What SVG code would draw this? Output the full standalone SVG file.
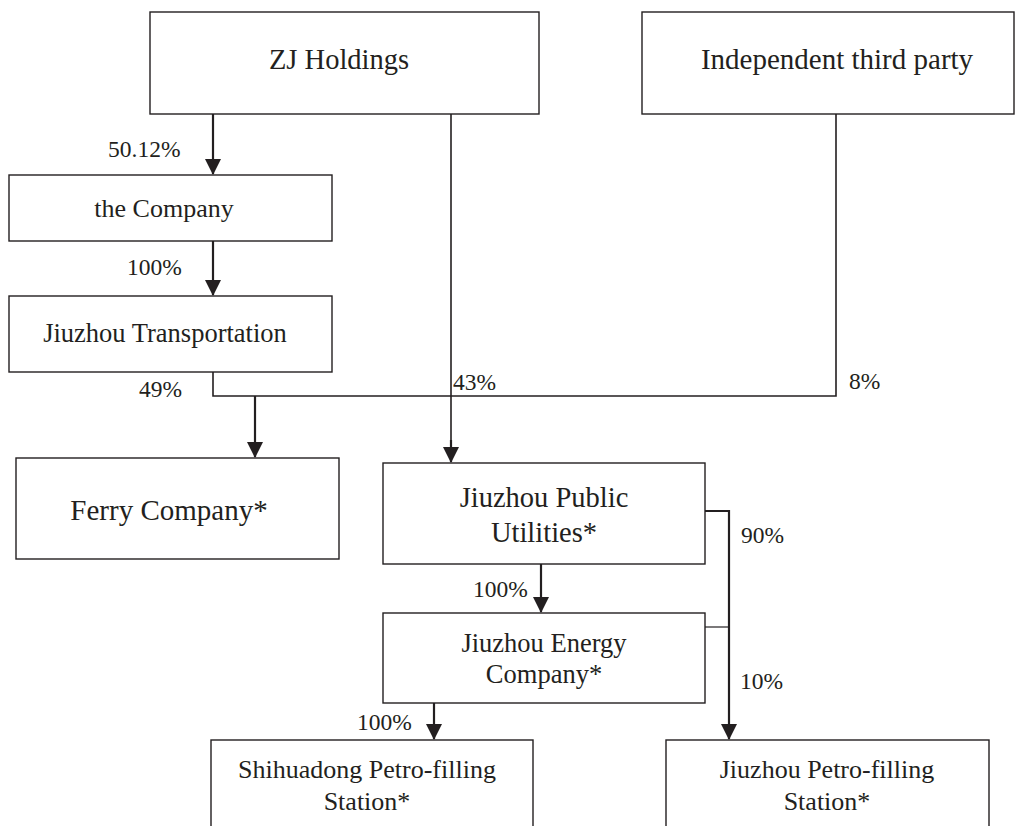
<svg xmlns="http://www.w3.org/2000/svg" width="1015" height="826" viewBox="0 0 1015 826">
<style>
.box{fill:#fff;stroke:#231f20;stroke-width:1.4}
.t{font-family:"Liberation Serif","Times New Roman",serif;fill:#231f20;text-anchor:middle}
.p{font-family:"Liberation Serif","Times New Roman",serif;fill:#231f20;font-size:23.5px}
.c{fill:none;stroke:#231f20;stroke-width:1.6}
.a{fill:none;stroke:#231f20;stroke-width:2.2}
</style>
<defs>
<marker id="ah" markerUnits="userSpaceOnUse" markerWidth="16" markerHeight="17" refX="15" refY="8" orient="auto">
<path d="M0,0 L16,8 L0,16 z" fill="#231f20"/>
</marker>
</defs>
<rect width="1015" height="826" fill="#fff"/>
<g id="connectors">
<line class="a" x1="213" y1="114" x2="213" y2="174" marker-end="url(#ah)"/>
<line class="a" x1="213" y1="241" x2="213" y2="295" marker-end="url(#ah)"/>
<polyline class="c" points="213,372 213,396 836,396 836,114"/>
<line class="a" x1="255" y1="396" x2="255" y2="457" marker-end="url(#ah)"/>
<line class="c" x1="451" y1="114" x2="451" y2="450"/>
<line class="a" x1="451" y1="440" x2="451" y2="462" marker-end="url(#ah)"/>
<line class="a" x1="541" y1="564" x2="541" y2="612" marker-end="url(#ah)"/>
<polyline class="a" points="705,511 729,511 729,739" marker-end="url(#ah)"/>
<line class="c" x1="705" y1="627" x2="729" y2="627" style="stroke-width:1.2"/>
<line class="a" x1="434" y1="703" x2="434" y2="739" marker-end="url(#ah)"/>
<text class="p" x="108" y="157">50.12%</text>
<text class="p" x="127" y="275">100%</text>
<text class="p" x="139" y="397">49%</text>
<text class="p" x="453" y="390">43%</text>
<text class="p" x="849" y="389">8%</text>
<text class="p" x="741" y="543">90%</text>
<text class="p" x="740" y="689">10%</text>
<text class="p" x="473" y="597">100%</text>
<text class="p" x="357" y="730">100%</text>
</g>
<g id="zj">
<rect class="box" x="150" y="12" width="389" height="102"/>
<text class="t" x="339" y="69" font-size="28.5">ZJ Holdings</text>
</g>
<g id="itp">
<rect class="box" x="642" y="12" width="372" height="102"/>
<text class="t" x="837" y="69" font-size="29">Independent third party</text>
</g>
<g id="company">
<rect class="box" x="9" y="175" width="323" height="66"/>
<text class="t" x="164" y="217" font-size="26">the Company</text>
</g>
<g id="transport">
<rect class="box" x="9" y="296" width="323" height="76"/>
<text class="t" x="165" y="342" font-size="26.5">Jiuzhou Transportation</text>
</g>
<g id="ferry">
<rect class="box" x="16" y="458" width="323" height="101"/>
<text class="t" x="169" y="520" font-size="29">Ferry Company*</text>
</g>
<g id="utilities">
<rect class="box" x="383" y="463" width="322" height="101"/>
<text class="t" x="544" y="507" font-size="28.5">Jiuzhou Public</text>
<text class="t" x="544" y="542" font-size="28.5">Utilities*</text>
</g>
<g id="energy">
<rect class="box" x="383" y="613" width="322" height="90"/>
<text class="t" x="544" y="652" font-size="26.5">Jiuzhou Energy</text>
<text class="t" x="544" y="683" font-size="26.5">Company*</text>
</g>
<g id="shihuadong">
<rect class="box" x="211" y="740" width="322" height="100"/>
<text class="t" x="367" y="778" font-size="26">Shihuadong Petro-filling</text>
<text class="t" x="367" y="810" font-size="26">Station*</text>
</g>
<g id="petro">
<rect class="box" x="666" y="740" width="323" height="100"/>
<text class="t" x="827" y="778" font-size="26">Jiuzhou Petro-filling</text>
<text class="t" x="827" y="810" font-size="26">Station*</text>
</g>
</svg>
